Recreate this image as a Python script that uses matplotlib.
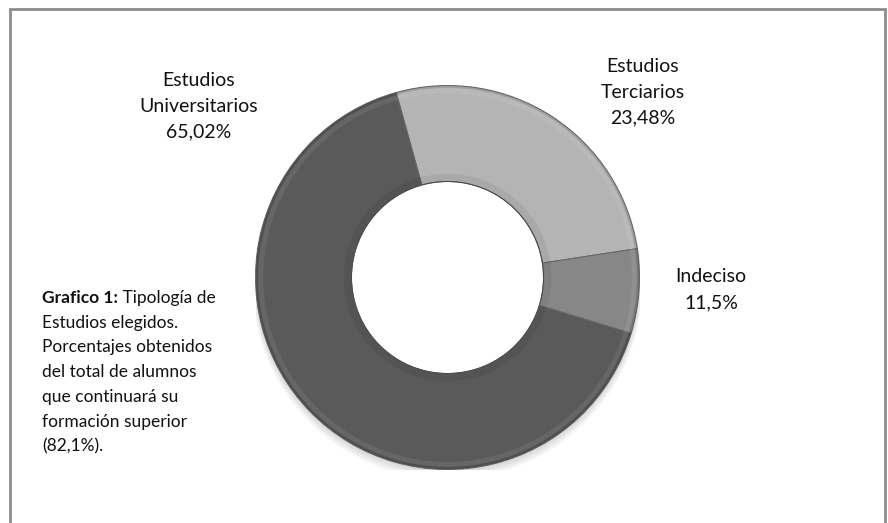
import matplotlib
matplotlib.use("Agg")
import matplotlib.pyplot as plt
from matplotlib.patches import Rectangle, Circle, Wedge

# slice order as drawn: clockwise from just left of 12 o'clock
categories = ["Estudios\nTerciarios", "Indeciso", "Estudios\nUniversitarios"]
pct_labels = ["23,48%", "11,5%", "65,02%"]
# shares as drawn in the picture (the printed labels differ slightly)
shares = [26.9, 7.1, 66.0]
colors = ["#b4b4b4", "#878787", "#5a5a5a"]

caption_bold = "Grafico 1:"
caption_lines = [" Tipología de", "Estudios elegidos.", "Porcentajes obtenidos",
                 "del total de alumnos", "que continuará su",
                 "formación superior", "(82,1%)."]

W, H = 888, 523
fig = plt.figure(figsize=(W / 100, H / 100), dpi=100)
plt.rcParams['font.family'] = ['Lato', 'DejaVu Sans']

def fx(px):
    return px / W

def fy(py):
    return 1 - py / H

# outer frame
fig.patches.append(Rectangle((fx(10), -0.05), fx(875), fy(9) + 0.05,
                             transform=fig.transFigure, fill=False,
                             edgecolor="#8c8c8c", linewidth=2))

# donut axes
cx, cy, r = 447.5, 277.5, 192
ax = fig.add_axes([fx(cx - r), fy(cy + r), fx(2 * r), (2 * r) / H])
ax.axis("off")

# soft shadow under the ring
for i in range(4):
    ax.add_patch(Circle((0, -0.012 - 0.008 * i), 1.0 + 0.005 * i, color="black",
                        alpha=0.04, zorder=0, linewidth=0))
ax.add_patch(Circle((0, 0), 0.5, color="white", zorder=0.5))

wedges, _ = ax.pie(shares, colors=colors, startangle=105.5, counterclock=False,
                   radius=1.0, wedgeprops=dict(width=0.5, edgecolor="#666666",
                                               linewidth=0.7))
for w in wedges:
    w.set_zorder(1)

# light bevel on each slice
for w in wedges:
    t1, t2 = w.theta1, w.theta2
    ax.add_patch(Wedge((0, 0), 1.0, t1, t2, width=0.012, color="black",
                       alpha=0.12, linewidth=0, zorder=2))
    ax.add_patch(Wedge((0, 0), 0.985, t1, t2, width=0.025, color="white",
                       alpha=0.08, linewidth=0, zorder=2))
    ax.add_patch(Wedge((0, 0), 0.54, t1, t2, width=0.04, color="black",
                       alpha=0.06, linewidth=0, zorder=2))
ax.add_patch(Circle((0, 0), 0.5, fill=False, edgecolor="#4a4a4a",
                    linewidth=0.7, zorder=3))
ax.set_xlim(-1, 1)
ax.set_ylim(-1, 1)

# slice labels
label_pos = [(643, 66), (711, 277), (199, 80)]
for cat, pct, (px, py) in zip(categories, pct_labels, label_pos):
    lines = cat.split("\n") + [pct]
    for k, line in enumerate(lines):
        fig.text(fx(px), fy(py + 26 * k), line, ha="center", va="center",
                 fontsize=14, color="#111111")

# caption on the left
x0, y0, step = 42, 298, 24.7
t = fig.text(fx(x0), fy(y0), caption_bold, ha="left", va="center",
             fontsize=12.5, fontweight="bold", color="#111111")
fig.canvas.draw()
bb = t.get_window_extent()
fig.text(bb.x1 / W, fy(y0), caption_lines[0], ha="left", va="center",
         fontsize=12.5, color="#111111")
for k, line in enumerate(caption_lines[1:], start=1):
    fig.text(fx(x0), fy(y0 + step * k), line, ha="left", va="center",
             fontsize=12.5, color="#111111")

fig.savefig("out.png", dpi=100)
